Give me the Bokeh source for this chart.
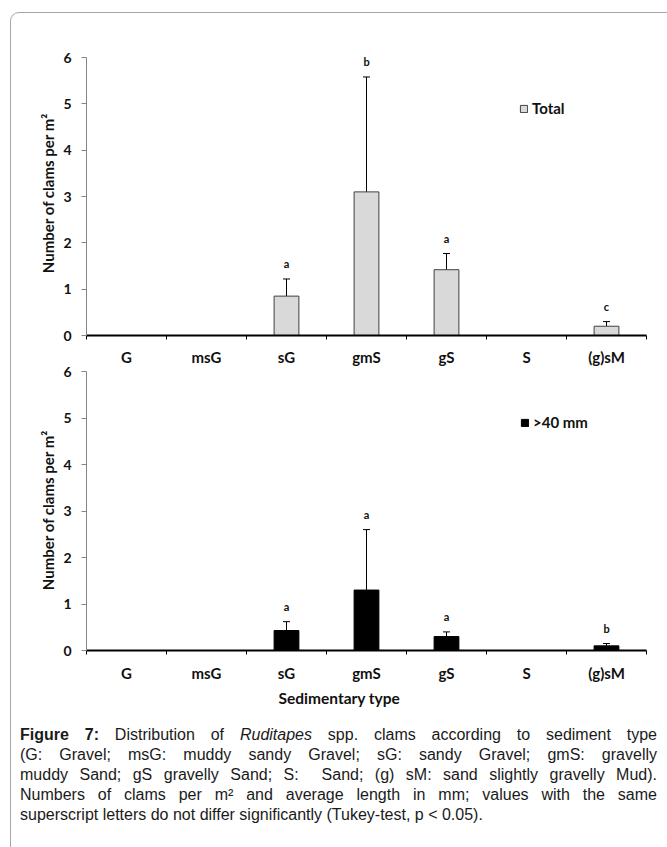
from bokeh.plotting import figure
from bokeh.models import (ColumnDataSource, Whisker, TeeHead, FixedTicker, Legend,
                          LegendItem, Div, Range1d, Title)
from bokeh.layouts import column
from bokeh.embed import file_html
from bokeh.resources import INLINE
from bokeh.core.properties import value

# ---------------- data ----------------
categories = ["G", "msG", "sG", "gmS", "gS", "S", "(g)sM"]
total_mean = [0, 0, 0.85, 3.10, 1.42, 0, 0.20]
total_err = [0, 0, 0.37, 2.48, 0.35, 0, 0.10]
total_letters = ["", "", "a", "b", "a", "", "c"]
large_mean = [0, 0, 0.43, 1.30, 0.30, 0, 0.10]
large_err = [0, 0, 0.19, 1.30, 0.10, 0, 0.05]
large_letters = ["", "", "a", "a", "a", "", "b"]
y_ticks = [0, 1, 2, 3, 4, 5, 6]
y_label = "Number of clams per m\u00b2"
x_title = "Sedimentary type"

FONT = "Lato"
TXT = "#111111"


def make_source(means, errs, letters):
    xs, ys, ups, lts = [], [], [], []
    for i, (m, e, l) in enumerate(zip(means, errs, letters)):
        if m > 0:
            xs.append(i + 0.5)
            ys.append(m)
            ups.append(m + e)
            lts.append(l)
    return ColumnDataSource(dict(x=xs, y=ys, upper=ups, letter=lts))


def make_panel(means, errs, letters, fill, line, legend_label, frame_h, y_end,
               top_border, bottom_border, legend_loc, x_standoff, margin):
    n = len(categories)
    p = figure(frame_width=560, frame_height=frame_h,
               x_range=Range1d(0, n), y_range=Range1d(0, y_end),
               output_backend="svg", toolbar_location=None,
               min_border_left=86, min_border_right=15,
               min_border_top=top_border, min_border_bottom=bottom_border,
               margin=margin)
    p.outline_line_color = None
    p.xgrid.visible = False
    p.ygrid.visible = False
    p.background_fill_color = "white"
    p.border_fill_alpha = 0

    src = make_source(means, errs, letters)
    bars = p.vbar(x="x", top="y", bottom=0, width=0.31, source=src,
                  fill_color=fill, line_color=line, line_width=1)
    w = Whisker(base="x", upper="upper", lower="y", source=src,
                line_color="black", line_width=1,
                upper_head=TeeHead(size=7, line_color="black", line_width=1),
                lower_head=None)
    p.add_layout(w)
    p.text(x="x", y="upper", text="letter", source=src, text_font=value(FONT),
           text_font_style="bold", text_font_size="11px", text_align="center",
           text_baseline="middle", y_offset=-15, text_color=TXT)

    # y axis
    ya = p.yaxis[0]
    ya.ticker = FixedTicker(ticks=y_ticks)
    ya.bounds = (0, 6)
    ya.axis_line_color = "#868686"
    ya.major_tick_line_color = "#868686"
    ya.major_tick_out = 5
    ya.major_tick_in = 0
    ya.minor_tick_line_color = None
    ya.major_label_standoff = 10
    ya.major_label_text_font = FONT
    ya.major_label_text_font_style = "bold"
    ya.major_label_text_font_size = "14px"
    ya.major_label_text_color = TXT
    ya.axis_label = y_label
    ya.axis_label_standoff = 3
    ya.axis_label_text_font = FONT
    ya.axis_label_text_font_style = "bold"
    ya.axis_label_text_font_size = "15px"
    ya.axis_label_text_color = TXT

    # x axis: labels at category centres, ticks at category boundaries
    xa = p.xaxis[0]
    centers = [i + 0.5 for i in range(n)]
    xa.ticker = FixedTicker(ticks=centers, minor_ticks=list(range(n + 1)))
    xa.major_label_overrides = {c: lab for c, lab in zip(centers, categories)}
    xa.axis_line_color = "black"
    xa.axis_line_width = 2
    xa.major_tick_line_color = None
    xa.major_tick_out = 0
    xa.major_tick_in = 0
    xa.minor_tick_line_color = "black"
    xa.minor_tick_out = 4
    xa.minor_tick_in = 0
    xa.major_label_standoff = x_standoff
    xa.major_label_text_font = FONT
    xa.major_label_text_font_style = "bold"
    xa.major_label_text_font_size = "15px"
    xa.major_label_text_color = TXT

    leg = Legend(items=[LegendItem(label=legend_label, renderers=[bars])],
                 location=legend_loc, padding=0, margin=0, spacing=0,
                 border_line_color=None, background_fill_alpha=0,
                 glyph_width=9, glyph_height=9, label_standoff=4,
                 label_height=9, label_text_font=FONT,
                 label_text_font_style="bold", label_text_font_size="15px",
                 label_text_color=TXT)
    p.add_layout(leg)
    return p


p_top = make_panel(total_mean, total_err, total_letters, "#d9d9d9", "#404040",
                   "Total", 285, 285 / 46.33, 50, 34, (433, 218), 8, (0, 0, 0, 0))
p_bot = make_panel(large_mean, large_err, large_letters, "black", "black",
                   ">40 mm", 281, 281 / 46.5, 8, 56, (434, 219), 9, (-8, 0, 0, 0))

t = Title(text=x_title, align="left", offset=192, text_font=FONT,
          text_font_style="bold", text_font_size="15.5px", text_color=TXT,
          standoff=4)
p_bot.add_layout(t, "below")

just = "text-align:justify;text-align-last:justify;"
caption_html = (
    '<div style="position:fixed;left:10px;top:12px;width:800px;height:1000px;'
    'border:1.5px solid #a6a6a6;border-radius:9px;pointer-events:none;"></div>'
    '<div style="font-family:\'Liberation Sans\',Arial,sans-serif;font-size:16px;'
    'line-height:20px;color:#1a1a1a;width:637px;">'
    f'<div style="{just}"><b>Figure 7:</b> Distribution of '
    '<i>Ruditapes</i> spp. clams according to sediment type</div>'
    f'<div style="{just}">(G: Gravel; msG: muddy sandy Gravel; '
    'sG: sandy Gravel; gmS: gravelly</div>'
    f'<div style="{just}">muddy Sand; gS gravelly Sand; '
    'S:&nbsp; Sand; (g) sM: sand slightly gravelly Mud).</div>'
    f'<div style="{just}">Numbers of clams per m\u00b2 and '
    'average length in mm; values with the same</div>'
    '<div style="text-align:left;">superscript letters do not differ significantly '
    '(Tukey-test, p &lt; 0.05).</div>'
    '</div>'
)
caption = Div(text=caption_html, width=637, margin=(17, 0, 0, 20))

layout = column(p_top, p_bot, caption, spacing=0)

open("out.html", "w").write(file_html(layout, INLINE))
